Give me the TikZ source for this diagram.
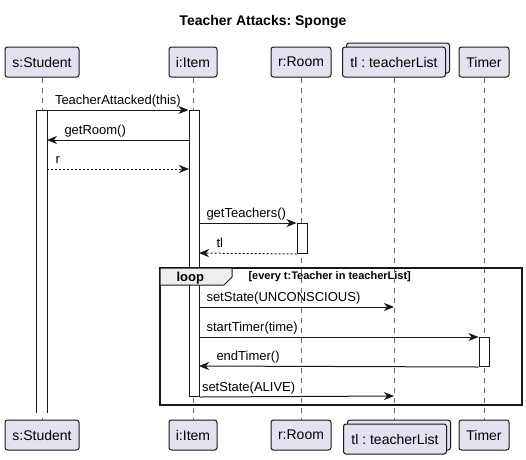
\documentclass[tikz,border=0pt]{standalone}
\usepackage{fontspec}
\setmainfont{Liberation Sans}
\frenchspacing
\usetikzlibrary{arrows.meta}
\definecolor{partfill}{HTML}{E2E2F0}
\definecolor{tabfill}{HTML}{EEEEEE}
\definecolor{edge}{HTML}{181818}

\begin{document}
\begin{tikzpicture}[x=1pt, y=-1pt, line width=1pt]
\tikzset{
  part/.style={draw=edge, fill=partfill, rounded corners=2.5pt, minimum height=30pt, inner sep=0pt, font=\fontsize{14}{16}\selectfont},
  life/.style={draw=edge!65, line width=0.8pt, dash pattern=on 5pt off 5pt},
  act/.style={draw=edge, fill=white, minimum width=10pt, inner sep=0pt, anchor=north},
  msg/.style={draw=edge, -{Stealth[length=10pt,width=8pt,inset=3pt]}},
  ret/.style={msg, dash pattern=on 2pt off 2pt},
  lbl/.style={font=\fontsize{13}{15}\selectfont, inner sep=0pt, anchor=base west, yshift=5.5pt},
}
\useasboundingbox (0,0) rectangle (526,459);

\node[font=\bfseries\fontsize{14}{16}\selectfont] (title) at (263,22) {Teacher Attacks: Sponge};

% participants, top row
\node[part, minimum width=74pt] (sT) at (42,62) {s:Student};
\node[part, minimum width=48pt] (iT) at (193,62) {i:Item};
\node[part, minimum width=60pt] (rT) at (301,62) {r:Room};
\node[part, minimum width=103pt] (tTb) at (398,58) {};
\node[part, minimum width=103pt] (tT) at (394,62) {tl : teacherList};
\node[part, minimum width=50pt] (mT) at (484,62) {Timer};
% participants, bottom row
\node[part, minimum width=74pt] (sB) at (42,435) {s:Student};
\node[part, minimum width=48pt] (iB) at (193,435) {i:Item};
\node[part, minimum width=60pt] (rB) at (301,435) {r:Room};
\node[part, minimum width=103pt] (tBb) at (399,435) {};
\node[part, minimum width=103pt] (tB) at (395,439) {tl : teacherList};
\node[part, minimum width=50pt] (mB) at (484,435) {Timer};

\draw[life] (sT.south) -- (sB.north);
\draw[life] (iT.south) -- (iB.north);
\draw[life] (rT.south) -- (rB.north);
\draw[life] (tT.south) -- (tT.south |- tBb.north);
\draw[life] (mT.south) -- (mB.north);

% activations
\node[act, draw=none, minimum height=302pt] (aS) at (42,110) {};
\draw[edge] (aS.south west) -- (aS.north west) -- (aS.north east) -- (aS.south east);
\node[act, minimum height=286pt] (aI) at (194,110) {};
\node[act, minimum height=30pt] (aR) at (302,223) {};
\node[act, minimum height=29pt] (aM) at (484,337) {};

% loop frame
\draw[edge, line width=1.6pt] (160,268) rectangle (522,405);
\draw[edge, fill=tabfill] (160,268) -- (232,268) -- (232,277) -- (224,285) -- (160,285) -- cycle;
\node[font=\bfseries\fontsize{13}{15}\selectfont, anchor=base west, inner sep=0pt] (lp) at (176,281) {loop};
\node[font=\bfseries\fontsize{11}{13}\selectfont, anchor=base west, inner sep=0pt] (cond) at (248,279) {[every t:Teacher in teacherList]};

\coordinate (k2a) at (189,140); \coordinate (k2b) at (47,140);
\coordinate (k3a) at (47,169);  \coordinate (k3b) at (189,169);
\coordinate (k4a) at (199,223);
\coordinate (k5b) at (199,253);
\coordinate (k6a) at (199,307); \coordinate (k6b) at (394,307);
\coordinate (k7a) at (199,337);
\coordinate (k8b) at (199,366);
\coordinate (k9b) at (394,396);

% messages
\draw[msg] (aS.north east) -- node[lbl, at start, xshift=7pt] {TeacherAttacked(this)} (aI.north west);
\draw[msg] (k2a) -- node[lbl, at end, xshift=17pt] {getRoom()} (k2b);
\draw[ret] (k3a) -- node[lbl, at start, xshift=8pt] {r} (k3b);
\draw[msg] (k4a) -- node[lbl, at start, xshift=7pt] {getTeachers()} (aR.north west);
\draw[ret] (aR.south west) -- node[lbl, at end, xshift=17pt] {tl} (k5b);
\draw[msg] (k6a) -- node[lbl, at start, xshift=7pt] {setState(UNCONSCIOUS)} (k6b);
\draw[msg] (k7a) -- node[lbl, at start, xshift=7pt] {startTimer(time)} (aM.north west);
\draw[msg] (aM.south west) -- node[lbl, at end, xshift=17pt] {endTimer()} (k8b);
\draw[msg] (aI.south east) -- node[lbl, at start, xshift=2pt] {setState(ALIVE)} (k9b);
\end{tikzpicture}
\end{document}
